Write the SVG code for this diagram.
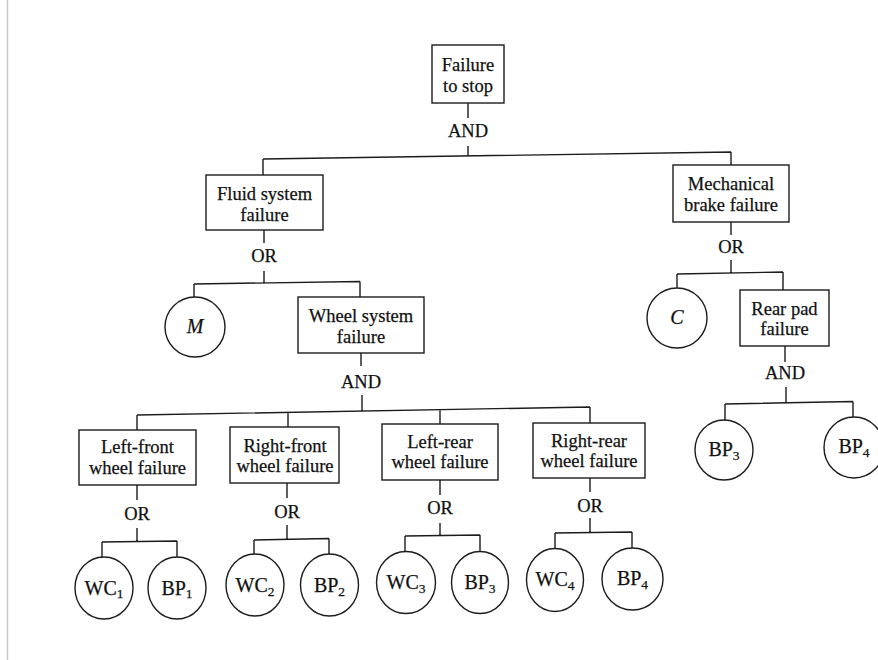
<svg xmlns="http://www.w3.org/2000/svg" width="878" height="660" viewBox="0 0 878 660">
  <defs>
    <style>
      .box { fill: #ffffff; stroke: #1c1c1c; stroke-width: 1.4; }
      .evt { fill: #ffffff; stroke: #1c1c1c; stroke-width: 1.4; }
      .wire { fill: none; stroke: #1c1c1c; stroke-width: 1.4; }
      .lbl { font-family: "Liberation Serif", "Times New Roman", serif; font-size: 18.5px; fill: #111111; stroke: #111111; stroke-width: 0.25; text-anchor: middle; }
      .gate { font-family: "Liberation Serif", "Times New Roman", serif; font-size: 18.5px; fill: #111111; stroke: #111111; stroke-width: 0.25; text-anchor: middle; }
      .sym { font-family: "Liberation Serif", "Times New Roman", serif; font-size: 20px; fill: #111111; stroke: #111111; stroke-width: 0.25; text-anchor: middle; }
      .it { font-style: italic; }
      .sub { font-size: 13.5px; }
    </style>
  </defs>

  <rect x="0" y="0" width="878" height="660" fill="#ffffff"/>
  <!-- page edge -->
  <line x1="7.5" y1="0" x2="7.5" y2="660" stroke="#c9c9c9" stroke-width="1.5"/>

  <!-- connectors and gate labels -->
  <g id="connectors">
    <!-- top AND -->
    <path class="wire" d="M468,103 V118 M468,146 V155.5 M263,159 L731,152 M263,159 V175 M731,152 V165"/>
    <text class="gate" x="468" y="137">AND</text>

    <!-- fluid system OR -->
    <path class="wire" d="M264,230 V243 M264,271 V283 M194,284 L360,281.5 M194,284 V297 M360,281.5 V297"/>
    <text class="gate" x="264" y="262">OR</text>

    <!-- mechanical brake OR -->
    <path class="wire" d="M731,222 V235 M731,260 V273 M677,274 L783,272 M677,274 V288 M783,272 V290"/>
    <text class="gate" x="731" y="253">OR</text>

    <!-- rear pad AND -->
    <path class="wire" d="M785,346 V362 M786,387 V403 M725,404 L853,401.5 M725,404 V420 M853,401.5 V417.5"/>
    <text class="gate" x="785" y="379">AND</text>

    <!-- wheel system AND -->
    <path class="wire" d="M361,353 V366 M362,395 V411 M137,415 L590,407 M137,415 V430 M288,412.3 V427 M440,409.6 V424 M590,407 V423"/>
    <text class="gate" x="361" y="388">AND</text>

    <!-- left-front OR -->
    <path class="wire" d="M137,485 V500 M137,528 V541.5 M102,542 L177,541 M102,542 V557 M177,541 V557"/>
    <text class="gate" x="137" y="520">OR</text>

    <!-- right-front OR -->
    <path class="wire" d="M287,483 V498 M287,525 V539 M254,540 L329,538.5 M254,540 V554 M329,538.5 V554"/>
    <text class="gate" x="287" y="518">OR</text>

    <!-- left-rear OR -->
    <path class="wire" d="M440,480 V495 M440,523 V535.5 M405,536 L480,535 M405,536 V552 M480,535 V552"/>
    <text class="gate" x="440" y="514">OR</text>

    <!-- right-rear OR -->
    <path class="wire" d="M590,478 V492 M590,518 V533 M555,533 L632,532 M555,533 V549 M632,532 V549"/>
    <text class="gate" x="590" y="511.5">OR</text>
  </g>

  <!-- intermediate events -->
  <g id="failure-to-stop">
    <rect class="box" x="432" y="45" width="72" height="58"/>
    <text class="lbl" x="468" y="71">Failure</text>
    <text class="lbl" x="468" y="92">to stop</text>
  </g>

  <g id="fluid-system">
    <rect class="box" x="206" y="175" width="117" height="55"/>
    <text class="lbl" x="264.5" y="200">Fluid system</text>
    <text class="lbl" x="264.5" y="221">failure</text>
  </g>

  <g id="mechanical-brake">
    <rect class="box" x="673" y="165" width="116" height="57"/>
    <text class="lbl" x="731" y="190">Mechanical</text>
    <text class="lbl" x="731" y="211">brake failure</text>
  </g>

  <g id="wheel-system">
    <rect class="box" x="298" y="297" width="126" height="56"/>
    <text class="lbl" x="361" y="322">Wheel system</text>
    <text class="lbl" x="361" y="343">failure</text>
  </g>

  <g id="rear-pad">
    <rect class="box" x="740" y="290" width="89" height="56"/>
    <text class="lbl" x="784.5" y="315">Rear pad</text>
    <text class="lbl" x="784.5" y="335">failure</text>
  </g>

  <g id="left-front">
    <rect class="box" x="79" y="430" width="117" height="55"/>
    <text class="lbl" x="137.5" y="453">Left-front</text>
    <text class="lbl" x="137.5" y="474">wheel failure</text>
  </g>

  <g id="right-front">
    <rect class="box" x="230" y="427" width="109" height="56"/>
    <text class="lbl" x="285" y="451.5">Right-front</text>
    <text class="lbl" x="285" y="471.5">wheel failure</text>
  </g>

  <g id="left-rear">
    <rect class="box" x="382" y="424" width="116" height="56"/>
    <text class="lbl" x="440" y="448">Left-rear</text>
    <text class="lbl" x="440" y="468">wheel failure</text>
  </g>

  <g id="right-rear">
    <rect class="box" x="533" y="423" width="112" height="55"/>
    <text class="lbl" x="589" y="446.5">Right-rear</text>
    <text class="lbl" x="589" y="466.5">wheel failure</text>
  </g>

  <!-- basic events -->
  <g id="M">
    <circle class="evt" cx="195" cy="327" r="30"/>
    <text class="sym it" x="195" y="333">M</text>
  </g>

  <g id="C">
    <circle class="evt" cx="677" cy="318" r="30"/>
    <text class="sym it" x="677" y="324">C</text>
  </g>

  <g id="BP3-rear">
    <ellipse class="evt" cx="724" cy="450" rx="29" ry="30"/>
    <text class="sym" x="724" y="456">BP<tspan class="sub" dy="4">3</tspan></text>
  </g>

  <g id="BP4-rear">
    <ellipse class="evt" cx="854" cy="447.5" rx="30" ry="30.5"/>
    <text class="sym" x="854" y="453">BP<tspan class="sub" dy="4">4</tspan></text>
  </g>

  <g id="WC1">
    <ellipse class="evt" cx="104" cy="588" rx="29" ry="31"/>
    <text class="sym" x="104" y="595">WC<tspan class="sub" dy="3">1</tspan></text>
  </g>

  <g id="BP1">
    <ellipse class="evt" cx="177" cy="588" rx="29" ry="31"/>
    <text class="sym" x="177" y="595">BP<tspan class="sub" dy="3">1</tspan></text>
  </g>

  <g id="WC2">
    <ellipse class="evt" cx="255" cy="585" rx="29" ry="31"/>
    <text class="sym" x="255" y="592">WC<tspan class="sub" dy="4">2</tspan></text>
  </g>

  <g id="BP2">
    <ellipse class="evt" cx="329.5" cy="585" rx="29" ry="31"/>
    <text class="sym" x="329.5" y="592">BP<tspan class="sub" dy="4">2</tspan></text>
  </g>

  <g id="WC3">
    <ellipse class="evt" cx="406" cy="582.5" rx="29.5" ry="31"/>
    <text class="sym" x="406" y="589">WC<tspan class="sub" dy="4">3</tspan></text>
  </g>

  <g id="BP3">
    <ellipse class="evt" cx="480" cy="582.5" rx="28.5" ry="31"/>
    <text class="sym" x="480" y="589">BP<tspan class="sub" dy="4">3</tspan></text>
  </g>

  <g id="WC4">
    <ellipse class="evt" cx="555" cy="580" rx="28.5" ry="31.5"/>
    <text class="sym" x="555" y="586">WC<tspan class="sub" dy="4">4</tspan></text>
  </g>

  <g id="BP4">
    <ellipse class="evt" cx="632.5" cy="579" rx="30.5" ry="31"/>
    <text class="sym" x="632.5" y="585">BP<tspan class="sub" dy="4">4</tspan></text>
  </g>
</svg>
